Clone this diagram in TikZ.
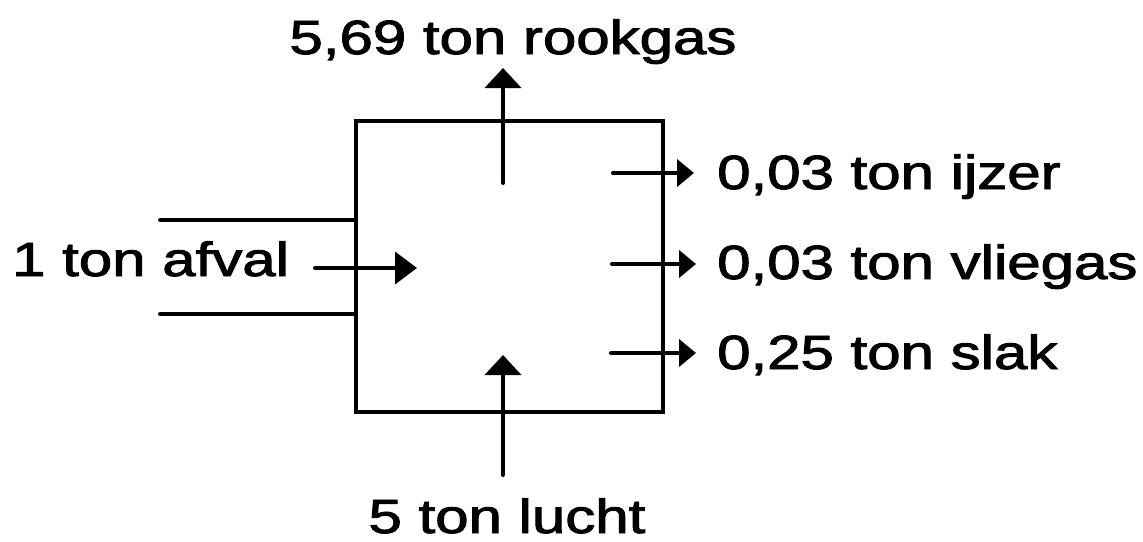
\documentclass[tikz,border=0pt]{standalone}
\usepackage{fontspec}
\usepackage{graphicx}
\setmainfont{Liberation Sans}
\newfontfamily\lblfont{Liberation Sans}[FakeBold=1.8]
\usetikzlibrary{arrows.meta}
\newcommand{\lbl}[1]{\scalebox{1.25}[1]{#1}}
\tikzset{
  ln/.style={line width=4pt, line cap=round},
  vup/.style={ln, -{Triangle[length=20pt,width=36pt]}},
  hin/.style={ln, -{Triangle[length=22pt,width=32pt]}},
  hout/.style={ln, -{Triangle[length=17pt,width=27pt]}},
  txt/.style={inner sep=0pt, font=\lblfont\fontsize{48}{50}\selectfont},
  boxstyle/.style={draw, line width=4pt, minimum width=307pt, minimum height=291pt, inner sep=0pt}
}
\begin{document}
\begin{tikzpicture}[x=1pt,y=-1pt]
\useasboundingbox (0,0) rectangle (1143,541);
% process box
\node[boxstyle] (box) at (509.5,266.5) {};
% labels
\node[txt, anchor=base] (rook) at (513,54) {\lbl{5,69 ton rookgas}};
\node[txt, anchor=base west] (afval) at (12,276) {\lbl{1 ton afval}};
\node[txt, anchor=base west] (ijzer) at (717,189) {\lbl{0,03 ton ijzer}};
\node[txt, anchor=base west] (vlieg) at (717,279) {\lbl{0,03 ton vliegas}};
\node[txt, anchor=base west] (slak) at (717,369) {\lbl{0,25 ton slak}};
\node[txt, anchor=base] (lucht) at (507,533) {\lbl{5 ton lucht}};
% free ends of connectors
\coordinate (gasS) at (503,183);
\coordinate (gasT) at (503,68);
\coordinate (airS) at (503,475);
\coordinate (airT) at (503,355);
\coordinate (inS) at (315,268);
\coordinate (inT) at (417,268);
\coordinate (feedA) at (160,220);
\coordinate (feedB) at (160,314);
\coordinate (o1S) at (613,173);
\coordinate (o1T) at (694,173);
\coordinate (o2S) at (612,264);
\coordinate (o2T) at (696,264);
\coordinate (o3S) at (611,353);
\coordinate (o3T) at (696,353);
% connectors
\draw[ln] (feedA) -- (feedA -| box.west);
\draw[ln] (feedB) -- (feedB -| box.west);
\draw[hin] (inS) -- (inT);
\draw[vup] (gasS) -- (gasT);
\draw[vup] (airS) -- (airT);
\draw[hout] (o1S) -- (o1T);
\draw[hout] (o2S) -- (o2T);
\draw[hout] (o3S) -- (o3T);
\end{tikzpicture}
\end{document}
